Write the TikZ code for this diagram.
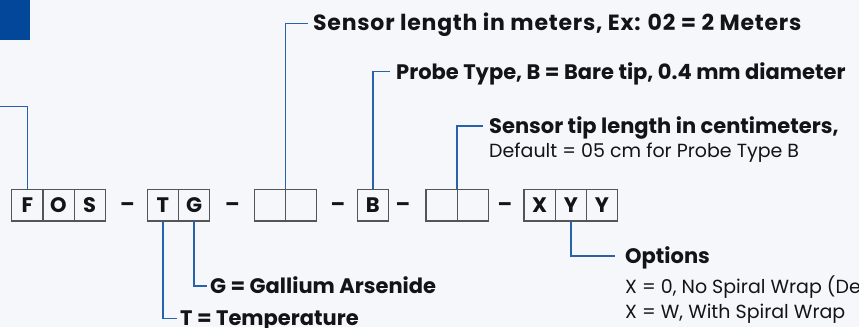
\documentclass[tikz,border=0pt]{standalone}
\usepackage{fontspec}
\setmainfont{Poppins}
\usetikzlibrary{positioning}
\definecolor{bgCol}{RGB}{245,247,251}
\definecolor{navyCol}{RGB}{3,71,154}
\definecolor{leadCol}{RGB}{40,98,172}
\definecolor{edgeCol}{RGB}{85,85,88}
\definecolor{inkCol}{RGB}{20,20,24}
\tikzset{
  cell/.style={draw=edgeCol,line width=1.2pt,minimum width=31.2pt,minimum height=31.7pt,
               inner sep=0pt,outer sep=0pt,font=\fontsize{21}{22}\selectfont\bfseries,text=inkCol},
  sep/.style={inner sep=0pt,font=\fontsize{21}{22}\selectfont\bfseries,text=inkCol},
  lead/.style={draw=leadCol,line width=1.5pt},
  head/.style={anchor=west,inner sep=0pt,text height=14.7pt,text depth=0pt,
               font=\fontsize{21}{24}\selectfont\bfseries,text=inkCol},
  note/.style={anchor=base west,inner sep=0pt,font=\fontsize{19}{22}\selectfont,text=inkCol},
}

\begin{document}
\begin{tikzpicture}[x=1pt,y=-1pt]
  \fill[bgCol] (0,0) rectangle (859,327);
  \useasboundingbox (0,0) rectangle (859,327);
  \fill[navyCol] (0,0) rectangle (30,40);
  % code boxes
  \node[cell,anchor=west] (f) at (11.7,205.2) {F};
  \node[cell,right=0pt of f] (o) {O};
  \node[cell,right=0pt of o] (s) {S};
  \node[cell,anchor=west] (t) at (147.3,205.2) {T};
  \node[cell,right=0pt of t] (g) {G};
  \node[cell,anchor=west] (m1) at (254.3,205.2) {};
  \node[cell,right=0pt of m1] (m2) {};
  \node[cell,anchor=west] (b) at (357.3,205.2) {B};
  \node[cell,anchor=west] (c1) at (426,205.2) {};
  \node[cell,right=0pt of c1] (c2) {};
  \node[cell,anchor=west] (x) at (524,205.2) {X};
  \node[cell,right=0pt of x] (y1) {Y};
  \node[cell,right=0pt of y1] (y2) {Y};
  % dashes
  \node[sep] (d1) at (127.5,206.7) {\textendash};
  \node[sep] (d2) at (232.5,206.7) {\textendash};
  \node[sep] (d3) at (338,206.7) {\textendash};
  \node[sep] (d4) at (403,206.7) {\textendash};
  \node[sep] (d5) at (505,206.7) {\textendash};
  % labels
  \coordinate (edge) at (0,106.7);
  \node[head,font=\fontsize{22}{24}\selectfont\bfseries] (len) at (313,23.3)
    {\addfontfeature{LetterSpace=3.5}Sensor length in meters, Ex: 02 = 2 Meters};
  \node[head] (probe) at (396,71.7) {Probe Type, B = Bare tip, 0.4 mm diameter};
  \node[head] (tip) at (489,126) {Sensor tip length in centimeters,};
  \node[note] (tipnote) at (489,157.3) {Default = 05 cm for Probe Type B};
  \node[head] (gal) at (210,286) {G = Gallium Arsenide};
  \node[head] (temp) at (180,318.3) {T = Temperature};
  \node[head] (opt) at (625,256) {Options};
  \node[note] (optzero) at (625,293) {X = 0, No Spiral Wrap (Default)};
  \node[note] (optwrap) at (625,318) {X = W, With Spiral Wrap};
  % leads
  \draw[lead] (f.north) |- (edge);
  \draw[lead,shorten >=5pt] (m1.north east) |- (len.west);
  \draw[lead,shorten >=6pt] (b.north) |- (probe.west);
  \draw[lead,shorten >=6.5pt] (c1.north east) |- (tip.west);
  \draw[lead,shorten >=3.5pt] (g.south) |- (gal.west);
  \draw[lead,shorten >=3.5pt] (t.south) |- (temp.west);
  \draw[lead,shorten >=10pt] (y1.south) |- (opt.west);
\end{tikzpicture}
\end{document}
